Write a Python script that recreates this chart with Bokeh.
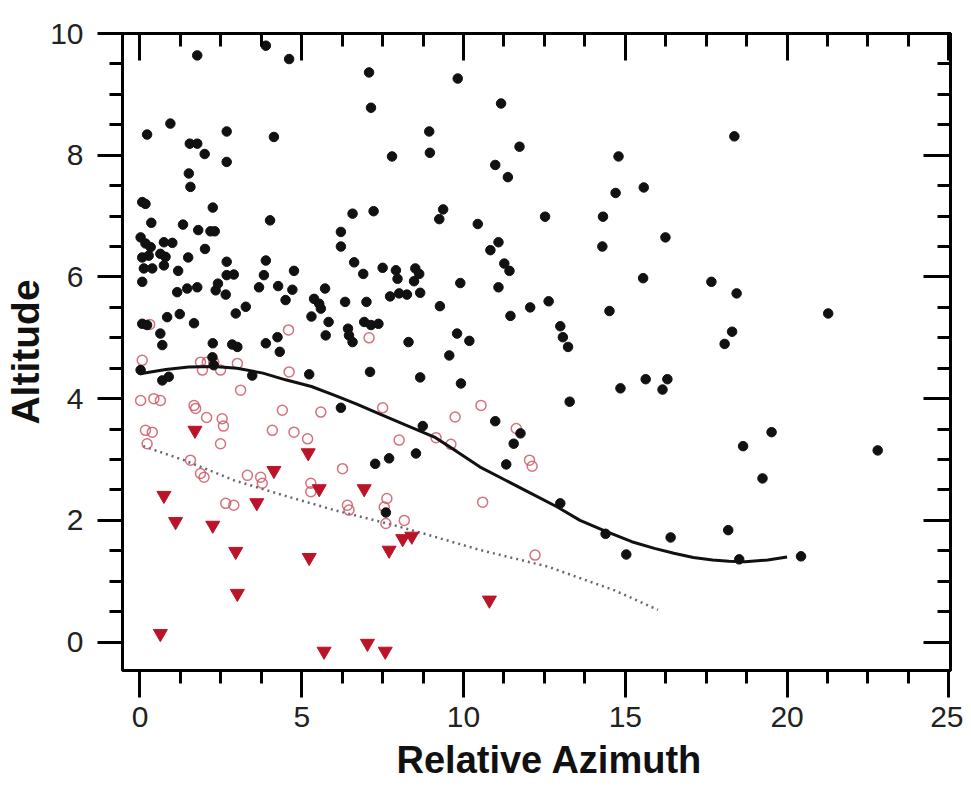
from bokeh.plotting import figure
from bokeh.models import Range1d, LinearAxis, FixedTicker, Title
from bokeh.embed import file_html
from bokeh.resources import INLINE

# ---- data ----
black_x = [1.77, 3.89, 4.61, 7.08, 7.14, 0.22, 0.94, 2.68, 4.14, 1.54, 1.77, 2.00, 2.68, 7.79, 1.51, 1.56,
           0.07, 0.17, 2.25, 4.02, 6.57, 7.22, 0.35, 1.33, 1.80, 2.18, 2.31, 6.21, 6.21, 0.02, 0.17, 0.33,
           0.74, 1.00, 2.01, 0.07, 0.27, 0.63, 0.79, 0.74, 1.49, 0.12, 0.38, 1.18, 2.68, 2.68, 2.90, 3.89,
           3.83, 4.76, 0.07, 1.15, 1.46, 1.77, 2.34, 2.41, 2.65, 3.68, 4.27, 4.71, 4.50, 5.72, 5.38, 5.54,
           5.59, 6.34, 7.00, 7.50, 7.91, 7.96, 7.73, 6.62, 6.90, 2.96, 3.27, 0.84, 1.23, 1.67, 0.07, 0.22,
           0.63, 0.69, 2.25, 2.85, 3.01, 3.89, 4.25, 5.30, 5.83, 5.74, 6.43, 6.46, 6.57, 6.93, 7.14, 7.37,
           9.82, 11.16, 8.94, 8.96, 11.73, 10.98, 11.37, 14.79, 15.57, 14.70, 9.37, 9.25, 10.44, 12.52,
           14.31, 14.29, 16.24, 11.08, 10.83, 11.26, 11.42, 8.51, 8.63, 8.47, 9.90, 8.01, 8.25, 8.66,
           11.08, 15.55, 9.27, 11.45, 12.06, 12.63, 14.51, 8.30, 9.80, 10.18, 12.99, 13.07, 13.23,
           18.37, 17.66, 18.44, 18.30, 18.07, 21.27,
           4.32, 2.24, 2.28, 0.02, 0.69, 0.89, 3.47, 5.23, 6.21, 7.11, 7.27, 7.70, 7.60,
           9.56, 8.66, 9.92, 13.28, 14.85, 15.63, 16.30, 16.15, 8.74, 10.98, 11.76, 11.55, 11.32, 8.53,
           12.99, 14.39, 15.03, 16.40,
           19.52, 18.64, 19.24, 22.80, 18.18, 18.52, 20.43]
black_y = [9.64, 9.80, 9.58, 9.36, 8.78, 8.34, 8.52, 8.39, 8.30, 8.19, 8.19, 8.02, 7.89, 7.98, 7.70, 7.48,
           7.23, 7.20, 7.14, 6.93, 7.04, 7.08, 6.89, 6.86, 6.77, 6.75, 6.75, 6.74, 6.50, 6.65, 6.55, 6.49,
           6.57, 6.56, 6.46, 6.32, 6.35, 6.38, 6.33, 6.19, 6.32, 6.14, 6.14, 6.10, 6.25, 6.03, 6.04, 6.27,
           6.03, 6.10, 5.92, 5.75, 5.81, 5.83, 5.78, 5.89, 5.71, 5.83, 5.85, 5.79, 5.62, 5.81, 5.64, 5.56,
           5.48, 5.59, 5.59, 6.15, 6.11, 5.97, 5.68, 6.24, 6.05, 5.40, 5.51, 5.34, 5.39, 5.24, 5.23, 5.21,
           5.07, 4.88, 4.91, 4.89, 4.85, 4.91, 5.01, 5.35, 5.26, 5.04, 5.15, 5.04, 4.93, 5.26, 5.21, 5.23,
           9.26, 8.85, 8.39, 8.04, 8.14, 7.84, 7.64, 7.98, 7.47, 7.38, 7.11, 6.95, 6.87, 6.99,
           6.99, 6.50, 6.65, 6.57, 6.44, 6.22, 6.10, 6.14, 6.05, 5.93, 5.90, 5.73, 5.71, 5.74,
           5.83, 5.98, 5.52, 5.36, 5.50, 5.60, 5.44, 4.93, 5.07, 4.95, 5.19, 5.01, 4.85,
           8.31, 5.92, 5.73, 5.10, 4.90, 5.40,
           4.77, 4.68, 4.55, 4.47, 4.30, 4.36, 4.38, 4.40, 3.85, 4.44, 2.93, 3.02, 2.13,
           4.71, 4.35, 4.25, 3.95, 4.17, 4.32, 4.32, 4.15, 3.55, 3.63, 3.43, 3.26, 2.92, 3.10,
           2.28, 1.78, 1.44, 1.72,
           3.45, 3.22, 2.69, 3.15, 1.84, 1.36, 1.41]

open_x = [0.07, 0.02, 0.43, 0.63, 0.17, 0.38, 0.22, 1.87, 2.08, 2.28, 1.93, 2.49, 3.01, 3.11, 1.67, 1.72,
          2.06, 2.54, 2.58, 2.49, 4.40, 5.59, 4.09, 4.76, 5.18, 4.61, 1.56, 1.87, 1.98, 3.32, 3.73, 3.78,
          5.28, 5.28, 6.26, 2.65, 2.90, 6.41, 6.46, 7.63, 7.55, 7.60, 8.01, 7.50, 10.54, 9.74, 9.15, 9.61,
          11.63, 12.04, 12.12, 10.59, 8.17, 12.21, 0.30, 4.59, 7.08]
open_y = [4.63, 3.97, 4.00, 3.97, 3.48, 3.45, 3.26, 4.60, 4.60, 4.60, 4.47, 4.47, 4.58, 4.14, 3.89, 3.84,
          3.69, 3.67, 3.55, 3.26, 3.81, 3.78, 3.48, 3.45, 3.34, 4.44, 2.99, 2.77, 2.71, 2.74, 2.71, 2.61,
          2.61, 2.47, 2.85, 2.28, 2.25, 2.25, 2.17, 2.36, 2.22, 1.95, 3.32, 3.85, 3.89, 3.70, 3.36, 3.25,
          3.51, 2.99, 2.89, 2.30, 2.00, 1.43, 5.22, 5.13, 5.00]

tri_x = [1.70, 5.20, 4.14, 5.54, 6.93, 0.74, 3.61, 1.10, 2.25, 2.96, 5.23, 7.70, 8.12, 8.40,
         3.01, 0.63, 5.69, 7.03, 7.58, 10.80]
tri_y = [3.48, 3.11, 2.82, 2.52, 2.52, 2.41, 2.29, 1.98, 1.92, 1.49, 1.39, 1.51, 1.70, 1.74,
         0.80, 0.14, -0.15, -0.02, -0.15, 0.69]

curve_x = [0.0, 0.8, 1.5, 2.3, 3.0, 3.8, 4.5, 5.3, 6.0, 6.7, 7.4, 8.2, 9.1, 9.8, 10.5, 11.3, 12.1,
           12.9, 13.6, 14.4, 15.2, 15.9, 16.5, 17.1, 17.7, 18.2, 18.7, 19.4, 20.0]
curve_y = [4.41, 4.48, 4.52, 4.53, 4.50, 4.42, 4.31, 4.20, 4.06, 3.91, 3.75, 3.57, 3.37, 3.13, 2.88,
           2.66, 2.44, 2.22, 2.00, 1.82, 1.65, 1.54, 1.46, 1.39, 1.35, 1.33, 1.32, 1.35, 1.40]

dot_x = [0.1, 1.36, 2.90, 4.45, 6.0, 7.86, 8.79, 10.54, 12.61, 14.67, 16.01]
dot_y = [3.22, 2.99, 2.66, 2.41, 2.17, 1.92, 1.78, 1.51, 1.24, 0.85, 0.53]

x_major = [0, 5, 10, 15, 20, 25]
y_major = [0, 2, 4, 6, 8, 10]
x_minor = [i * 1.25 for i in range(0, 21) if i % 4 != 0]
y_minor = [i * 0.5 for i in range(-1, 21) if i % 4 != 0]

x_title = "Relative Azimuth"
y_title = "Altitude"

FONT = "Liberation Sans"

p = figure(width=963, height=789, x_range=Range1d(-0.54, 25.05), y_range=Range1d(-0.466, 10),
           output_backend="svg", toolbar_location=None, x_axis_location=None, y_axis_location=None,
           min_border_left=122, min_border_right=13, min_border_top=33, min_border_bottom=119)
p.xgrid.visible = False
p.ygrid.visible = False
p.outline_line_color = "black"
p.outline_line_width = 3
p.background_fill_color = "white"
p.border_fill_color = "white"

xt = FixedTicker(ticks=x_major, minor_ticks=x_minor)
yt = FixedTicker(ticks=y_major, minor_ticks=y_minor)


def style(ax, labels):
    ax.axis_line_width = 3
    ax.major_tick_line_width = 3
    ax.minor_tick_line_width = 3
    if labels:
        ax.major_tick_out = 25
        ax.major_tick_in = 0
        ax.minor_tick_out = 13
        ax.minor_tick_in = 0
        ax.major_label_text_font = FONT
        ax.major_label_text_font_size = "30px"
        ax.major_label_text_color = "#222222"
        ax.axis_label_text_font = FONT
        ax.axis_label_text_font_size = "39px"
        ax.axis_label_text_font_style = "bold"
        ax.axis_label_text_color = "#111111"
    else:
        ax.major_tick_out = 0
        ax.major_tick_in = 27
        ax.minor_tick_out = 0
        ax.minor_tick_in = 13
        ax.major_label_text_font_size = "0px"
        ax.major_label_text_alpha = 0


left = LinearAxis(ticker=yt, axis_label=y_title)
style(left, True)
left.major_label_standoff = 14
left.axis_label_standoff = 0
bottom = LinearAxis(ticker=xt)
style(bottom, True)
bottom.major_tick_out = 27
bottom.major_label_standoff = 9
top = LinearAxis(ticker=xt)
style(top, False)
right = LinearAxis(ticker=yt)
style(right, False)
p.add_layout(left, "left")
p.add_layout(bottom, "below")
p.add_layout(top, "above")
p.add_layout(right, "right")

p.add_layout(Title(text=x_title, align="left", offset=274, standoff=14,
                   text_font=FONT, text_font_size="38px", text_font_style="bold",
                   text_color="#111111"), "below")

p.line(dot_x, dot_y, line_color="#666674", line_width=2.5, line_dash="2 4")
p.scatter(open_x, open_y, marker="circle", size=10, fill_color=None,
          line_color="#cc5a66", line_width=1.5, line_alpha=0.85)
p.scatter(tri_x, tri_y, marker="inverted_triangle", size=14, fill_color="#bb1428",
          line_color="#bb1428")
p.scatter(black_x, black_y, marker="circle", size=9.5, fill_color="#111111", line_color="#111111")
p.line(curve_x, curve_y, line_color="#111111", line_width=3)

open("out.html", "w").write(file_html(p, INLINE))
